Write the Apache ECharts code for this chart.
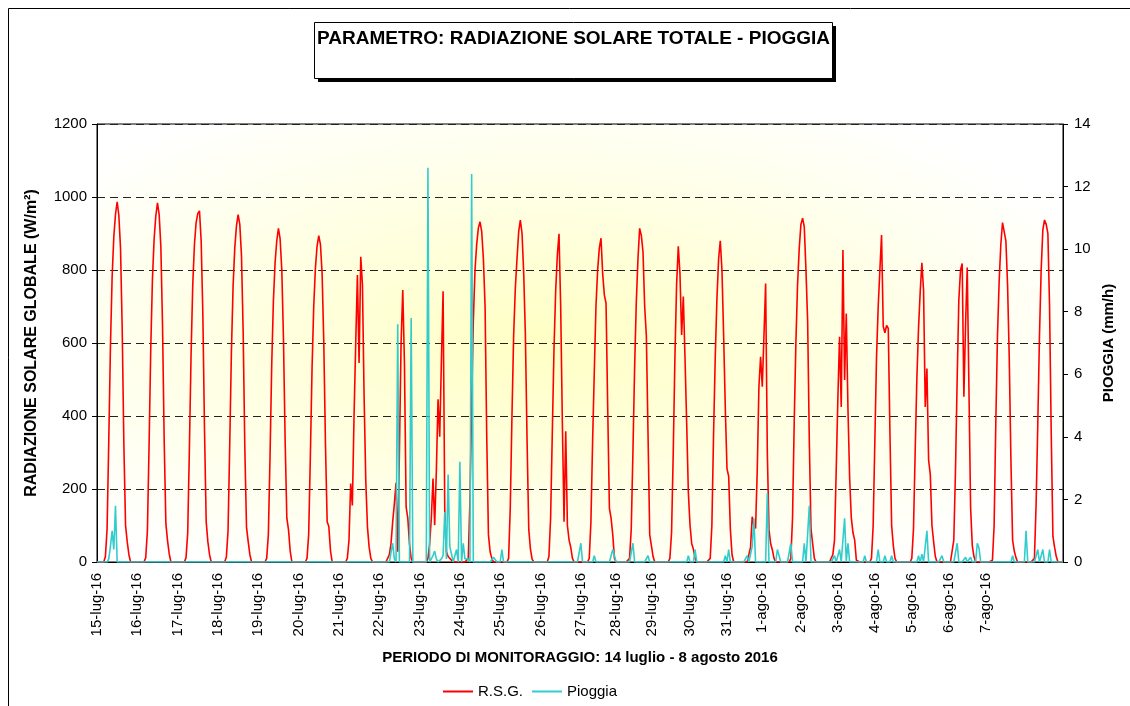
<!DOCTYPE html>
<html><head><meta charset="utf-8">
<script src="https://cdn.jsdelivr.net/npm/echarts@6/dist/echarts.min.js"></script>
<style>html,body{margin:0;padding:0;background:#fff}#c{width:1130px;height:706px}</style>
</head><body><div id="c"></div>
<script>
// ---- DATA ----
const dayNames = ['15-lug-16','16-lug-16','17-lug-16','18-lug-16','19-lug-16','20-lug-16','21-lug-16','22-lug-16',
  '23-lug-16','24-lug-16','25-lug-16','26-lug-16','27-lug-16','28-lug-16','29-lug-16','30-lug-16','31-lug-16',
  '1-ago-16','2-ago-16','3-ago-16','4-ago-16','5-ago-16','6-ago-16','7-ago-16'];
const tickLabels = ['15-lug-16','16-lug-16','17-lug-16','18-lug-16','19-lug-16','20-lug-16','21-lug-16','22-lug-16',
  '23-lug-16','24-lug-16','25-lug-16','26-lug-16','27-lug-16','28-lug-16','29-lug-16','30-lug-16','31-lug-16',
  '1-ago-16','2-ago-16','3-ago-16','4-ago-16','5-ago-16','6-ago-16','7-ago-16'];
const tickIndex = [0,24,48,72,96,120,144,168,192,216,240,264,288,309,330,353,375,396,419,441,463,485,507,529];
const yLeftTicks = { min: 0, max: 1200, step: 200 };
const yRightTicks = { min: 0, max: 14, step: 2 };

// R.S.G. hourly values (W/m2), one row per day, hours 0..23
const rsgByDay = [
  [0,0,0,0,0,15,90,330,590,780,890,952,987,950,860,640,320,100,55,20,0,0,0,0],
  [0,0,0,0,0,12,85,320,585,775,885,948,984,952,865,650,330,105,58,22,0,0,0,0],
  [0,0,0,0,0,12,80,310,570,760,870,930,955,962,880,680,360,110,55,20,0,0,0,0],
  [0,0,0,0,0,14,85,320,575,755,860,920,952,925,840,630,310,95,56,20,0,0,0,0],
  [0,0,0,0,0,10,75,290,540,715,820,880,914,885,800,610,330,120,88,30,0,0,0,0],
  [0,0,0,0,0,10,75,290,530,700,805,865,894,870,790,600,320,110,97,30,0,0,0,0],
  [0,0,0,0,0,10,60,215,155,400,600,786,545,836,760,450,220,95,40,10,0,0,0,0],
  [0,0,0,0,0,5,20,50,110,160,217,28,300,600,745,545,151,120,50,10,0,0,0,0],
  [0,0,0,0,0,10,50,120,229,101,250,446,343,550,742,142,28,15,12,5,0,0,0,0],
  [0,0,0,0,0,10,170,430,660,800,870,915,932,905,830,700,340,75,28,10,0,0,0,0],
  [0,0,0,0,0,10,150,400,620,750,830,905,937,900,790,620,330,90,35,8,0,0,0,0],
  [0,0,0,0,0,15,120,350,580,740,840,899,700,380,110,358,100,60,40,10,0,0,0,0],
  [0,0,0,0,0,10,110,330,520,700,800,860,887,790,731,709,420,147,120,75,10,0,0,0],
  [0,0,0,0,0,10,90,300,530,710,830,914,895,850,700,620,615,75,45,15,0,0,0,0],
  [0,0,0,0,0,10,80,300,560,760,865,790,622,727,560,380,190,100,50,35,10,0,0,0],
  [0,0,0,0,0,10,100,350,560,720,830,880,800,620,420,255,235,90,20,0,0,0,0,0],
  [0,0,0,0,5,40,124,100,92,250,480,562,480,620,763,300,88,50,33,10,0,0,0,0],
  [0,0,0,0,0,10,120,380,600,760,860,925,942,918,800,660,330,90,50,10,0,0,0,0],
  [0,0,0,0,0,0,20,60,250,450,617,425,855,499,681,420,230,120,80,60,5,0,0,0],
  [0,0,0,0,0,10,100,330,560,700,800,896,645,628,648,640,350,100,45,10,0,0,0,0],
  [0,0,0,0,0,10,90,300,500,640,740,820,745,425,530,280,240,100,55,15,0,0,0,0],
  [0,0,0,0,0,5,60,250,500,718,800,818,453,650,807,480,150,45,15,0,0,0,0,0],
  [0,0,0,0,0,5,100,380,620,770,870,930,935,880,760,560,280,60,30,12,0,0,0,0],
  [0,0,0,0,0,0,10,160,380,620,800,910,937,925,900,700,350,70,40,15,0,0,0,0]
];

// Pioggia hourly values (mm/h), one row per day, hours 0..23
const rainByDay = [
  [0,0,0,0,0,0,0,0.1,0.5,1.0,0.4,1.8,0,0,0,0,0,0,0,0,0,0,0,0],
  [0,0,0,0,0,0,0,0,0,0,0,0,0,0,0,0,0,0,0,0,0,0,0,0],
  [0,0,0,0,0,0,0,0,0,0,0,0,0,0,0,0,0,0,0,0,0,0,0,0],
  [0,0,0,0,0,0,0,0,0,0,0,0,0,0,0,0,0,0,0,0,0,0,0,0],
  [0,0,0,0,0,0,0,0,0,0,0,0,0,0,0,0,0,0,0,0,0,0,0,0],
  [0,0,0,0,0,0,0,0,0,0,0,0,0,0,0,0,0,0,0,0,0,0,0,0],
  [0,0,0,0,0,0,0,0,0,0,0,0,0,0,0,0,0,0,0,0,0,0,0,0],
  [0,0,0,0,0,0,0,0,0.6,0.1,0,7.6,0,0,0,0,0,0,0,7.8,0,0,0,0],
  [0,0,0,0,0,12.6,0,0.1,0.2,0.35,0.1,0,0,0.1,0.2,1.6,0.1,2.8,0.5,0.45,0,0,0.4,0],
  [3.2,0,0.6,0.1,0.15,0.1,0,12.4,0,0,0,0,0,0,0,0,0,0,0,0,0.15,0.2,0,0],
  [0,0.4,0,0,0,0,0,0,0,0,0,0,0,0,0,0,0,0,0,0,0,0,0,0],
  [0,0,0,0,0,0,0,0,0,0,0,0,0,0,0,0,0,0,0,0,0,0,0,0],
  [0.6,0,0,0,0,0,0,0,0.2,0,0,0,0,0,0,0,0,0,0,0.4,0.2,0,0,0],
  [0,0,0,0,0,0,0,0.6,0,0,0,0,0,0,0,0,0.2,0,0,0,0,0,0,0],
  [0,0,0,0,0,0,0,0,0,0,0,0,0,0,0,0,0.2,0,0,0,0.4,0,0,0],
  [0,0,0,0,0,0,0,0,0,0,0,0,0,0,0.2,0,0.4,0,0,0,0,0,0,0],
  [0,0,0,0.2,0,0,0.5,1.4,0,0,0,0,0,0,0,2.2,0,0,0,0,0,0.4,0.2,0],
  [0,0,0,0,0,0.6,0,0,0,0,0,0,0,0.6,0,0,1.8,0,0,0,0,0,0,0],
  [0,0,0,0,0,0,0,0.2,0,0,0.4,0,0,1.4,0,0.6,0,0,0,0,0,0,0,0],
  [0,0.2,0,0,0,0,0,0,0,0.4,0,0,0,0.2,0,0,0,0.2,0,0,0,0,0,0],
  [0,0,0,0,0,0,0,0,0,0.2,0,0.25,0,0,1.0,0,0,0,0,0,0,0,0,0.2],
  [0,0,0,0,0,0,0,0,0.6,0,0,0,0,0.15,0,0,0.15,0,0,0,0.6,0.45,0,0],
  [0,0,0,0,0,0,0,0,0,0,0,0,0,0,0,0,0,0.2,0,0,0,0,0,0],
  [0,1.0,0,0,0,0,0,0,0.4,0,0,0.4,0,0,0,0.4,0,0,0,0,0,0,0,0]
];

// ---- BUILD ----
const categories = [];
dayNames.forEach(d => { for (let h = 0; h < 24; h++) categories.push(d + ' ' + (h < 10 ? '0' : '') + h + ':00'); });
const rsg = rsgByDay.flat();
const rain = rainByDay.flat();
const labelAt = {};
tickIndex.forEach((ix, i) => { labelAt[ix] = tickLabels[i]; });

const FONT = '"Liberation Sans", Arial, sans-serif';
const chart = echarts.init(document.getElementById('c'), null, { renderer: 'canvas' });
const plot = { left: 97, top: 124, width: 966, height: 438 };

chart.setOption({
  animation: false,
  backgroundColor: '#fff',
  textStyle: { fontFamily: FONT, color: '#000' },
  title: {
    text: 'PARAMETRO: RADIAZIONE SOLARE TOTALE - PIOGGIA',
    left: 317, top: 29, padding: 0,
    textStyle: { fontFamily: FONT, fontSize: 19, fontWeight: 'bold', color: '#000' }
  },
  graphic: [
    { type: 'rect', z: -20, silent: true,
      shape: { x: 8.5, y: 8.5, width: 1200, height: 800 },
      style: { fill: 'none', stroke: '#000', lineWidth: 1 } },
    { type: 'rect', z: -19, silent: true,
      shape: { x: 318, y: 26, width: 518, height: 56 },
      style: { fill: '#000' } },
    { type: 'rect', z: -18, silent: true,
      shape: { x: 314.5, y: 22.5, width: 518, height: 56 },
      style: { fill: '#fff', stroke: '#000', lineWidth: 1 } },
    { type: 'rect', z: -17, silent: true,
      x: plot.left, y: plot.top, scaleX: plot.width / plot.height,
      shape: { x: 0, y: 0, width: plot.height, height: plot.height },
      style: { fill: { type: 'radial', x: 0.46, y: 0.5, r: 0.62,
        colorStops: [{ offset: 0, color: '#FFFFC4' }, { offset: 0.4, color: '#FFFFDC' }, { offset: 1, color: '#FFFFFF' }] } } }
  ],
  legend: {
    left: 443, top: 684, padding: 0, itemWidth: 30, itemHeight: 2, itemGap: 9, icon: 'rect',
    textStyle: { fontFamily: FONT, fontSize: 15, color: '#000' },
    data: ['R.S.G.', 'Pioggia']
  },
  grid: { left: 97, right: 67, top: 124, bottom: 144, show: true, borderColor: '#000', borderWidth: 1, backgroundColor: 'transparent' },
  xAxis: {
    type: 'category', data: categories, boundaryGap: false,
    axisLine: { lineStyle: { color: '#000', width: 1 } },
    axisTick: { show: false },
    splitLine: { show: false },
    axisLabel: {
      interval: (i) => labelAt[i] !== undefined,
      formatter: (v, i) => labelAt[i] || '',
      rotate: 90, margin: 11, fontSize: 15, color: '#000', fontFamily: FONT
    },
    name: 'PERIODO DI MONITORAGGIO: 14 luglio - 8 agosto 2016',
    nameLocation: 'middle', nameGap: 88,
    nameTextStyle: { fontFamily: FONT, fontWeight: 'bold', fontSize: 15, color: '#000' }
  },
  yAxis: [
    { type: 'value', min: yLeftTicks.min, max: yLeftTicks.max, interval: yLeftTicks.step, position: 'left',
      axisLine: { show: true, lineStyle: { color: '#000' } },
      axisTick: { show: true, length: 5, lineStyle: { color: '#000' } },
      axisLabel: { fontSize: 15, color: '#000', margin: 10, fontFamily: FONT, formatter: (v) => String(v) },
      splitLine: { show: true, lineStyle: { color: '#222', type: [8, 5], width: 1 } },
      name: 'RADIAZIONE SOLARE GLOBALE (W/m²)', nameLocation: 'middle', nameRotate: 90, nameGap: 57,
      nameTextStyle: { fontFamily: FONT, fontWeight: 'bold', fontSize: 16, color: '#000' } },
    { type: 'value', min: yRightTicks.min, max: yRightTicks.max, interval: yRightTicks.step, position: 'right',
      axisLine: { show: true, lineStyle: { color: '#000' } },
      axisTick: { show: true, length: 5, lineStyle: { color: '#000' } },
      axisLabel: { fontSize: 15, color: '#000', margin: 11, fontFamily: FONT, formatter: (v) => String(v) },
      splitLine: { show: false },
      name: 'PIOGGIA (mm/h)', nameLocation: 'middle', nameRotate: 90, nameGap: 38,
      nameTextStyle: { fontFamily: FONT, fontWeight: 'bold', fontSize: 15, color: '#000' } }
  ],
  series: [
    { name: 'R.S.G.', type: 'line', data: rsg, yAxisIndex: 0, symbol: 'none',
      lineStyle: { color: '#FF0000', width: 1.6 }, itemStyle: { color: '#FF0000' }, z: 3 },
    { name: 'Pioggia', type: 'line', data: rain, yAxisIndex: 1, symbol: 'none',
      lineStyle: { color: '#33CCCC', width: 1.6 }, itemStyle: { color: '#33CCCC' }, z: 4 }
  ]
});
</script></body></html>
